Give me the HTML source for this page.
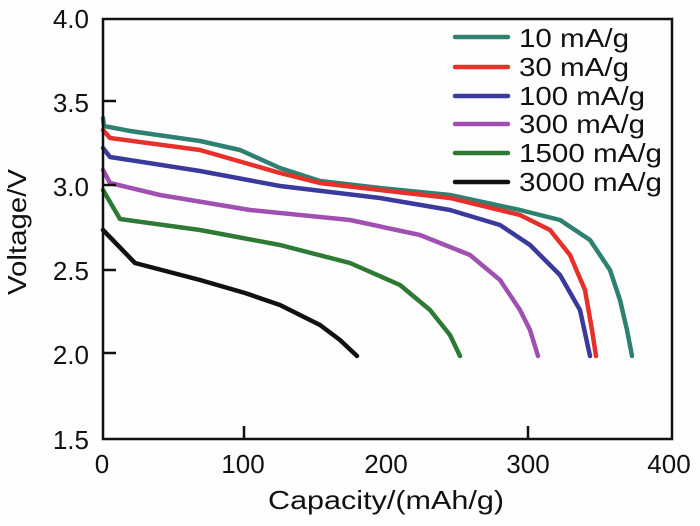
<!DOCTYPE html><html><head><style>body{margin:0;background:#fff}svg{display:block}text{font-family:"Liberation Sans",Arial,sans-serif;fill:#111}</style></head><body>
<svg width="700" height="526" viewBox="0 0 700 526">
<rect width="700" height="526" fill="#fefefe"/>
<g fill="none" stroke-width="4.5" stroke-linejoin="round" stroke-linecap="round">
<polyline stroke="#2e8070" points="103,118 104,126 130,131 200,141 240,150 280,168 320,181 380,188 450,195 520,210 560,220 590,240 610,270 620,300 627,330 632,356"/>
<polyline stroke="#e8302a" points="103,130 110,138 200,150 280,173 320,183 380,190 450,198 520,215 550,230 570,255 585,290 592,330 596,356"/>
<polyline stroke="#3a3a9c" points="103,148 110,157 200,171 280,186 380,198 450,210 500,225 530,245 560,275 580,310 590,356"/>
<polyline stroke="#a050b0" points="103,170 110,183 160,195 250,210 350,220 420,235 470,255 500,280 520,310 530,330 538,356"/>
<polyline stroke="#2e7a35" points="103,190 120,219 200,230 280,245 350,263 400,285 430,310 450,335 460,356"/>
<polyline stroke="#111" points="103,230 135,263 200,280 245,293 280,305 320,325 340,340 357,356"/>
<line stroke="#2e8070" x1="455" y1="37" x2="508" y2="37"/>
<line stroke="#e8302a" x1="455" y1="67" x2="508" y2="67"/>
<line stroke="#3a3a9c" x1="455" y1="96" x2="508" y2="96"/>
<line stroke="#a050b0" x1="455" y1="124" x2="508" y2="124"/>
<line stroke="#2e7a35" x1="455" y1="153" x2="508" y2="153"/>
<line stroke="#111" x1="455" y1="182" x2="508" y2="182"/>
</g>
<g font-size="26">
<text x="519" y="47" textLength="110" lengthAdjust="spacingAndGlyphs">10 mA/g</text>
<text x="519" y="76" textLength="110" lengthAdjust="spacingAndGlyphs">30 mA/g</text>
<text x="519" y="105" textLength="126" lengthAdjust="spacingAndGlyphs">100 mA/g</text>
<text x="519" y="133" textLength="126" lengthAdjust="spacingAndGlyphs">300 mA/g</text>
<text x="519" y="162" textLength="143" lengthAdjust="spacingAndGlyphs">1500 mA/g</text>
<text x="519" y="191" textLength="143" lengthAdjust="spacingAndGlyphs">3000 mA/g</text>
</g>
<rect x="103" y="19" width="569" height="420" fill="none" stroke="#111" stroke-width="2.5"/>
<g stroke="#111" stroke-width="2.5">
<line x1="103" y1="101" x2="116" y2="101"/><line x1="103" y1="185" x2="116" y2="185"/><line x1="103" y1="270" x2="116" y2="270"/><line x1="103" y1="353" x2="116" y2="353"/>
<line x1="244" y1="439" x2="244" y2="426"/><line x1="528" y1="439" x2="528" y2="426"/>
</g>
<g font-size="26" text-anchor="end">
<text x="89" y="28">4.0</text><text x="89" y="112">3.5</text><text x="89" y="196">3.0</text><text x="89" y="280">2.5</text><text x="89" y="364">2.0</text><text x="89" y="449">1.5</text>
</g>
<g font-size="26" text-anchor="middle">
<text x="102" y="473">0</text><text x="243" y="473">100</text><text x="386" y="473">200</text><text x="528" y="473">300</text><text x="669" y="473">400</text>
<text x="386" y="509" textLength="236" lengthAdjust="spacingAndGlyphs">Capacity/(mAh/g)</text>
<text transform="translate(26,232) rotate(-90)" textLength="126" lengthAdjust="spacingAndGlyphs">Voltage/V</text>
</g>
</svg></body></html>
